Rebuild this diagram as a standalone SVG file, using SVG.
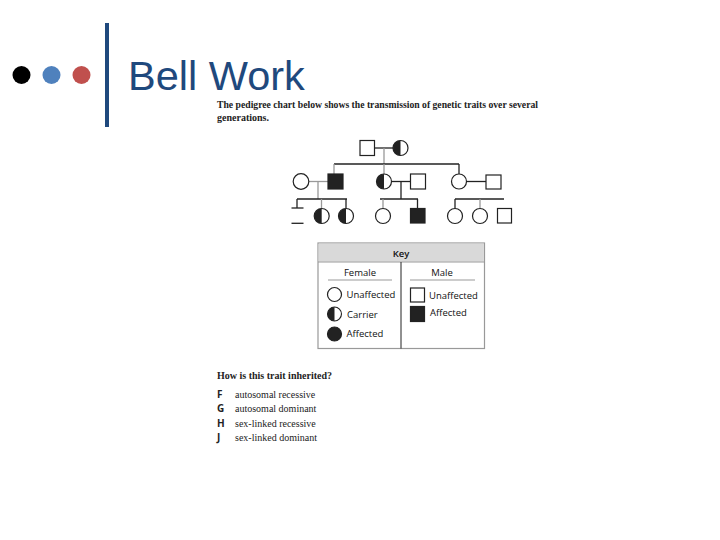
<svg xmlns="http://www.w3.org/2000/svg" width="720" height="540" viewBox="0 0 720 540">
<defs>
<style>
.ln{stroke:#222;stroke-width:1.3;fill:none}
.lg{stroke:#999;stroke-width:1.3;fill:none}
.f{fill:#fff;stroke:#222;stroke-width:1.2}
.a{fill:#222;stroke:#222;stroke-width:1.2}
.k{font-family:"Open Sans","Liberation Sans",sans-serif;font-size:9.5px;fill:#111}
.t{font-family:"Liberation Serif",serif;font-size:10px;fill:#222}
</style>
<clipPath id="lh"><rect x="-10" y="-10" width="10" height="20"/></clipPath>
<g id="carrier">
<circle r="7.5" fill="#fff"/>
<circle r="7.5" fill="#222" clip-path="url(#lh)"/>
<circle r="7.5" fill="none" stroke="#222" stroke-width="1.2"/>
</g>
</defs>
<rect width="720" height="540" fill="#fff"/>
<g id="header">
<circle cx="21.5" cy="75" r="9" fill="#000"/>
<circle cx="51.5" cy="75" r="9" fill="#4F81BD"/>
<circle cx="81.5" cy="75" r="9" fill="#C0504D"/>
<rect x="105" y="23" width="4" height="104" fill="#1F497D"/>
<text x="128" y="90" font-family="Liberation Sans,Arial,sans-serif" font-size="41.5" fill="#1F497D">Bell Work</text>
</g>
<g id="intro" class="t" font-weight="bold">
<text x="217" y="108" class="t" font-weight="bold" textLength="321" lengthAdjust="spacingAndGlyphs">The pedigree chart below shows the transmission of genetic traits over several</text>
<text x="217" y="121" class="t" font-weight="bold">generations.</text>
</g>
<g id="connectors">
<line class="ln" x1="374" y1="148" x2="393" y2="148"/>
<line class="lg" x1="384" y1="148" x2="384" y2="164"/>
<line class="ln" x1="334" y1="164" x2="459" y2="164"/>
<line class="lg" x1="334" y1="164" x2="334" y2="174"/>
<line class="lg" x1="384" y1="164" x2="384" y2="174"/>
<line class="ln" x1="459" y1="164" x2="459" y2="174"/>
<line class="lg" x1="309" y1="181.5" x2="328" y2="181.5"/>
<line class="lg" x1="318" y1="181.5" x2="318" y2="199"/>
<line class="ln" x1="297" y1="199" x2="347" y2="199"/>
<line class="ln" x1="297" y1="199" x2="297" y2="208"/>
<line class="lg" x1="321.5" y1="199" x2="321.5" y2="208.5"/>
<line class="ln" x1="346" y1="199" x2="346" y2="208.5"/>
<line class="ln" x1="392" y1="181.5" x2="410" y2="181.5"/>
<line class="ln" x1="401" y1="181.5" x2="401" y2="199"/>
<line class="ln" x1="380" y1="199" x2="418" y2="199"/>
<line class="lg" x1="383" y1="199" x2="383" y2="208.5"/>
<line class="ln" x1="417.5" y1="199" x2="417.5" y2="208"/>
<line class="ln" x1="466.5" y1="181.5" x2="486" y2="181.5"/>
<line class="ln" x1="455" y1="199" x2="504" y2="199"/>
<line class="ln" x1="455" y1="199" x2="455" y2="208.5"/>
<line class="lg" x1="480" y1="199" x2="480" y2="208.5"/>
</g>
<g id="gen1-father"><rect class="f" x="360" y="140.5" width="14.5" height="15"/></g>
<g id="gen1-mother"><use href="#carrier" x="400.5" y="148"/></g>
<g id="gen2-wife1"><circle class="f" cx="301" cy="181.5" r="7.8"/></g>
<g id="gen2-son"><rect class="a" x="328" y="174" width="15" height="15"/></g>
<g id="gen2-daughter"><use href="#carrier" x="384" y="181.5"/></g>
<g id="gen2-husband"><rect class="f" x="410.5" y="174" width="15" height="15"/></g>
<g id="gen2-daughter2"><circle class="f" cx="459" cy="181.5" r="7.5"/></g>
<g id="gen2-husband2"><rect class="f" x="486" y="175" width="15" height="14"/></g>
<g id="gen3-partial"><line class="ln" x1="291.5" y1="208" x2="303.5" y2="208"/><line class="ln" x1="291.5" y1="223.3" x2="303.5" y2="223.3"/></g>
<g id="gen3-c1"><use href="#carrier" x="321.7" y="216"/></g>
<g id="gen3-c2"><use href="#carrier" x="346" y="216"/></g>
<g id="gen3-c3"><circle class="f" cx="383" cy="216" r="7.5"/></g>
<g id="gen3-c4"><rect class="a" x="410.5" y="208.5" width="14.5" height="14.5"/></g>
<g id="gen3-c5"><circle class="f" cx="455" cy="216" r="7.5"/></g>
<g id="gen3-c6"><circle class="f" cx="480" cy="216" r="7.5"/></g>
<g id="gen3-c7"><rect class="f" x="497.5" y="208.5" width="14" height="14.5"/></g>
<g id="key">
<rect x="318" y="243" width="166.5" height="105.5" fill="#fff" stroke="#999" stroke-width="1.2"/>
<rect x="318.6" y="243.6" width="165.3" height="18" fill="#d9d9d9"/>
<line x1="318" y1="262" x2="484.5" y2="262" stroke="#999" stroke-width="1"/>
<line x1="401" y1="262" x2="401" y2="348.5" stroke="#222" stroke-width="1"/>
<text class="k" x="401" y="257" text-anchor="middle" font-weight="600">Key</text>
<text class="k" x="360" y="276" text-anchor="middle" font-size="8.5">Female</text>
<text class="k" x="442" y="276" text-anchor="middle" font-size="8.5">Male</text>
<line x1="328" y1="280" x2="392" y2="280" stroke="#999" stroke-width="1.2"/>
<line x1="410" y1="280" x2="475" y2="280" stroke="#999" stroke-width="1.2"/>
<circle class="f" cx="334.5" cy="294.5" r="7"/>
<use href="#carrier" transform="translate(334.5 314) scale(0.93)"/>
<circle class="a" cx="334.5" cy="334" r="7"/>
<rect class="f" x="410.5" y="288" width="14" height="14"/>
<rect class="a" x="410.5" y="306.5" width="14" height="15"/>
<text class="k" x="346.5" y="298">Unaffected</text>
<text class="k" x="347" y="317.5" font-size="8.5">Carrier</text>
<text class="k" x="346.5" y="337">Affected</text>
<text class="k" x="429" y="298.5">Unaffected</text>
<text class="k" x="430" y="316" font-size="8.5">Affected</text>
</g>
<g id="question">
<text class="t" x="217" y="379" font-weight="bold">How is this trait inherited?</text>
<g font-family="Open Sans,Liberation Sans,sans-serif" font-size="10" font-weight="bold" fill="#222">
<text x="217" y="398">F</text>
<text x="217" y="412">G</text>
<text x="217" y="427">H</text>
<text x="217" y="441">J</text>
</g>
<g class="t" fill="#333">
<text class="t" x="235" y="398">autosomal recessive</text>
<text class="t" x="235" y="412">autosomal dominant</text>
<text class="t" x="235" y="427">sex-linked recessive</text>
<text class="t" x="235" y="441">sex-linked dominant</text>
</g>
</g>
</svg>
